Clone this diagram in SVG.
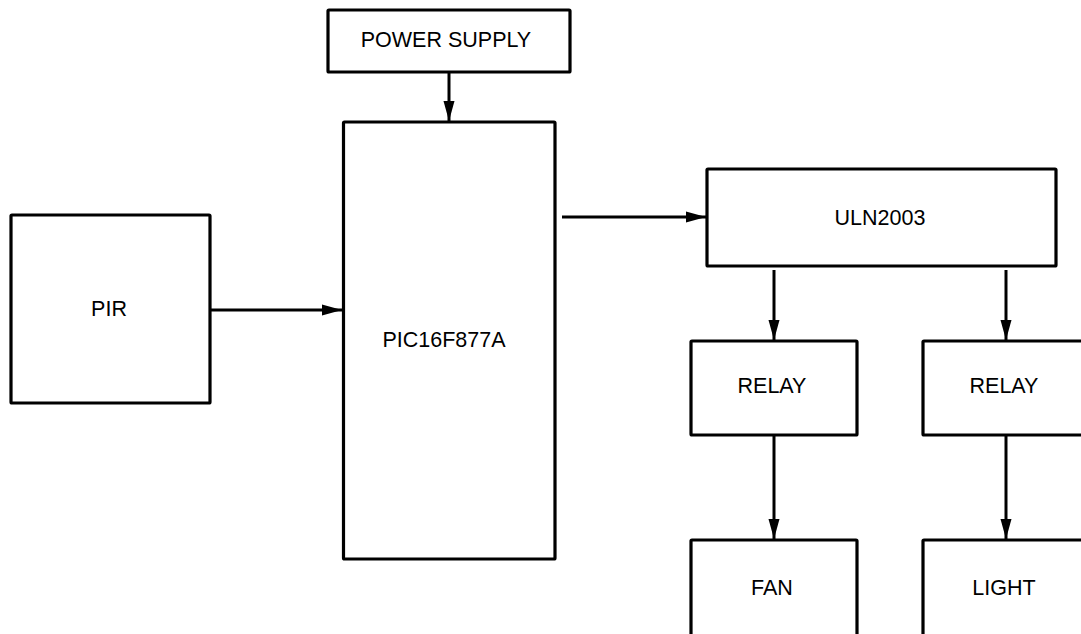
<svg xmlns="http://www.w3.org/2000/svg" width="1081" height="634" viewBox="0 0 1081 634">
<style>
.box{fill:#fff;stroke:#000;stroke-width:3.2;}
.lbl{font-family:"Liberation Sans",Arial,sans-serif;font-size:21.5px;fill:#000;text-anchor:middle;}
.wire{stroke:#000;stroke-width:3;fill:none;marker-end:url(#ah);}
</style>
<defs>
<marker id="ah" markerUnits="userSpaceOnUse" markerWidth="20" markerHeight="12" refX="20" refY="6" orient="auto">
<path d="M0,0.5 L20,6 L0,11.5 Z" fill="#000"/>
</marker>
</defs>
<rect width="1081" height="634" fill="#fff"/>
<g id="connectors">
<line class="wire" x1="449" y1="72" x2="449" y2="121"/>
<line class="wire" x1="210" y1="310" x2="342" y2="310"/>
<line class="wire" x1="562" y1="217" x2="706" y2="217"/>
<line class="wire" x1="774" y1="270" x2="774" y2="340"/>
<line class="wire" x1="1006" y1="270" x2="1006" y2="340"/>
<line class="wire" x1="774" y1="435" x2="774" y2="539"/>
<line class="wire" x1="1006" y1="435" x2="1006" y2="539"/>
</g>
<g id="power">
<rect class="box" x="328" y="10" width="242" height="62" rx="1"/>
<text class="lbl" x="446" y="47">POWER SUPPLY</text>
</g>
<g id="pic">
<rect class="box" x="343.5" y="122" width="211.5" height="437" rx="1"/>
<text class="lbl" x="444" y="347">PIC16F877A</text>
</g>
<g id="pir">
<rect class="box" x="11" y="215" width="199" height="188" rx="1"/>
<text class="lbl" x="109" y="316">PIR</text>
</g>
<g id="uln">
<rect class="box" x="707" y="169" width="349" height="97" rx="1"/>
<text class="lbl" x="880" y="225">ULN2003</text>
</g>
<g id="relay1">
<rect class="box" x="691" y="341" width="166" height="94" rx="1"/>
<text class="lbl" x="772" y="393">RELAY</text>
</g>
<g id="relay2">
<rect class="box" x="923" y="341" width="170" height="94" rx="1"/>
<text class="lbl" x="1004" y="393">RELAY</text>
</g>
<g id="fan">
<rect class="box" x="691" y="540" width="166" height="110" rx="1"/>
<text class="lbl" x="772" y="595">FAN</text>
</g>
<g id="light">
<rect class="box" x="923" y="540" width="170" height="110" rx="1"/>
<text class="lbl" x="1004" y="595">LIGHT</text>
</g>
</svg>
